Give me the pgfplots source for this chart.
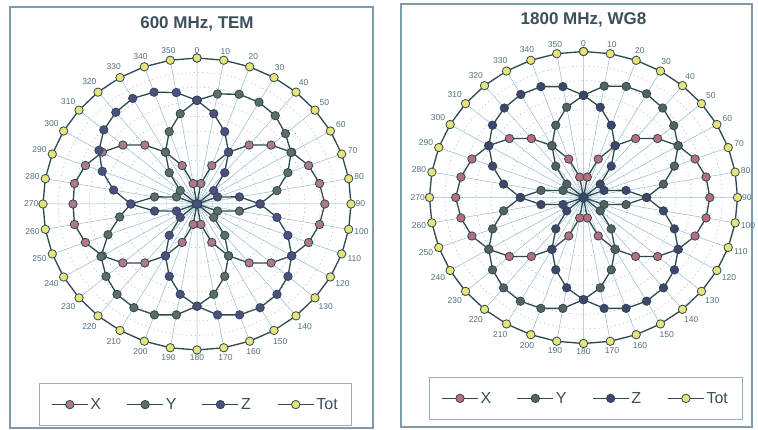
\documentclass[border=0pt]{standalone}
\usepackage{fontspec}
\setmainfont{Liberation Sans}
\usepackage{pgfplots}
\pgfplotsset{compat=1.18}
\usepgfplotslibrary{polar}
\usepackage{pgfplotstable}

\definecolor{ln}{HTML}{2E4A50}
\definecolor{cx}{HTML}{B27888}
\definecolor{cy}{HTML}{5E6E66}
\definecolor{cz}{HTML}{4E4E82}
\definecolor{ct}{HTML}{E8E47A}
\definecolor{cxR}{HTML}{B86C7E}
\definecolor{cyR}{HTML}{566260}
\definecolor{czR}{HTML}{40446F}
\definecolor{spoke}{HTML}{96B8CE}
\definecolor{lab}{HTML}{50707E}
\definecolor{frame}{HTML}{7C9CAC}
\definecolor{titlec}{HTML}{3C505A}

% angle (0 = top, clockwise), X, Y, Z, Tot
\pgfplotstableread{
a X Y Z T
0 0.000 0.710 0.710 1
10 0.142 0.765 0.628 1
20 0.280 0.800 0.527 1
30 0.410 0.805 0.410 1
40 0.527 0.790 0.280 1
50 0.628 0.750 0.142 1
60 0.710 0.705 0.000 1
70 0.771 0.628 0.142 1
80 0.808 0.527 0.280 1
90 0.830 0.410 0.410 1
100 0.808 0.280 0.527 1
110 0.771 0.142 0.628 1
120 0.710 0.000 0.710 1
130 0.628 0.142 0.771 1
140 0.527 0.280 0.808 1
150 0.410 0.410 0.820 1
160 0.280 0.527 0.808 1
170 0.142 0.628 0.771 1
180 0.000 0.700 0.700 1
190 0.142 0.771 0.628 1
200 0.280 0.808 0.527 1
210 0.410 0.820 0.410 1
220 0.527 0.808 0.280 1
230 0.628 0.771 0.142 1
240 0.710 0.720 0.000 1
250 0.771 0.615 0.142 1
260 0.808 0.510 0.280 1
270 0.805 0.430 0.430 1
280 0.808 0.280 0.550 1
290 0.771 0.142 0.655 1
300 0.710 0.000 0.735 1
310 0.628 0.142 0.790 1
320 0.527 0.280 0.820 1
330 0.410 0.410 0.835 1
340 0.280 0.527 0.815 1
350 0.142 0.628 0.775 1
360 0.000 0.710 0.710 1
}\leftdata

\pgfplotstableread{
a X Y Z T
0 0.000 0.700 0.700 1
10 0.142 0.775 0.628 1
20 0.280 0.810 0.527 1
30 0.410 0.820 0.410 1
40 0.527 0.800 0.280 1
50 0.628 0.765 0.142 1
60 0.710 0.710 0.000 1
70 0.771 0.628 0.142 1
80 0.808 0.527 0.280 1
90 0.820 0.410 0.410 1
100 0.808 0.280 0.527 1
110 0.771 0.142 0.628 1
120 0.710 0.000 0.710 1
130 0.628 0.142 0.771 1
140 0.527 0.280 0.808 1
150 0.410 0.410 0.820 1
160 0.280 0.527 0.808 1
170 0.142 0.628 0.771 1
180 0.000 0.700 0.700 1
190 0.142 0.771 0.628 1
200 0.280 0.808 0.527 1
210 0.410 0.820 0.410 1
220 0.527 0.808 0.280 1
230 0.628 0.771 0.142 1
240 0.710 0.710 0.000 1
250 0.771 0.628 0.142 1
260 0.808 0.527 0.280 1
270 0.830 0.410 0.410 1
280 0.808 0.280 0.527 1
290 0.771 0.142 0.628 1
300 0.710 0.000 0.710 1
310 0.628 0.142 0.771 1
320 0.527 0.280 0.800 1
330 0.410 0.410 0.815 1
340 0.280 0.527 0.808 1
350 0.142 0.628 0.771 1
360 0.000 0.700 0.700 1
}\rightdata

\pgfplotsset{
  mypolar/.style={
    scale only axis, width=308pt, height=292pt,
    xmin=0, xmax=360, ymin=0, ymax=1,
    clip=false,
    xtick={0,10,...,350},
    xticklabel={\pgfmathtruncatemacro\lab{mod(round(450-\tick),360)}\lab},
    xticklabel style={font=\fontsize{8.5}{9}\selectfont, text=lab, inner sep=4.5pt},
    ytick={0.1,0.2,...,0.95}, yticklabels={},
    xmajorgrids, ymajorgrids,
    x grid style={spoke, line width=0.5pt},
    y grid style={spoke, line width=0.5pt, dash pattern=on 1.2pt off 3pt},
    major tick length=0pt,
    axis line style={draw=none},
    /pgf/number format/assume math mode=true,
    legend columns=4,
    legend style={anchor=center, draw=frame!80, line width=0.8pt,
      inner xsep=12pt, inner ysep=13pt,
      font=\fontsize{16}{18}\selectfont, text=titlec,
      /tikz/every even column/.append style={column sep=0pt}},
    legend image code/.code={\draw[mark repeat=2,mark phase=2,##1]
      plot coordinates {(0pt,0pt) (18pt,0pt) (36pt,0pt)};},
    title style={anchor=center, font=\bfseries\fontsize{17}{20}\selectfont, text=titlec},
    every axis plot/.append style={ln, line width=1.3pt, mark=*, mark size=4.2pt},
  }
}

\begin{document}
\begin{tikzpicture}
\useasboundingbox (0,0) rectangle (758pt,430pt);
\draw[frame, line width=1.3pt] (10pt,2pt) rectangle (373pt,423pt);
\draw[frame, line width=1.3pt] (401pt,3pt) rectangle (752pt,426pt);

\begin{polaraxis}[mypolar, at={(197pt,226pt)}, anchor=origin,
  title={600 MHz, TEM}, title style={at={(0.5,1.067)}},
  legend style={at={(0.495,-0.187)}}]
\addplot[mark options={fill=cx, draw=ln, line width=0.8pt}] table[x expr=90-\thisrow{a}, y=X] {\leftdata};
\addlegendentry{\makebox[34pt][l]{X}}
\addplot[mark options={fill=cy, draw=ln, line width=0.8pt}] table[x expr=90-\thisrow{a}, y=Y] {\leftdata};
\addlegendentry{\makebox[34pt][l]{Y}}
\addplot[mark options={fill=cz, draw=ln, line width=0.8pt}] table[x expr=90-\thisrow{a}, y=Z] {\leftdata};
\addlegendentry{\makebox[34pt][l]{Z}}
\addplot[mark options={fill=ct, draw=ln, line width=0.8pt}] table[x expr=90-\thisrow{a}, y=T] {\leftdata};
\addlegendentry{Tot}
\end{polaraxis}

\begin{polaraxis}[mypolar, at={(583.5pt,232.5pt)}, anchor=origin,
  title={1800 MHz, WG8}, title style={at={(0.5,1.06)}},
  legend style={at={(0.507,-0.188)}}]
\addplot[mark options={fill=cxR, draw=ln, line width=0.8pt}] table[x expr=90-\thisrow{a}, y=X] {\rightdata};
\addlegendentry{\makebox[34pt][l]{X}}
\addplot[mark options={fill=cyR, draw=ln, line width=0.8pt}] table[x expr=90-\thisrow{a}, y=Y] {\rightdata};
\addlegendentry{\makebox[34pt][l]{Y}}
\addplot[mark options={fill=czR, draw=ln, line width=0.8pt}] table[x expr=90-\thisrow{a}, y=Z] {\rightdata};
\addlegendentry{\makebox[34pt][l]{Z}}
\addplot[mark options={fill=ct, draw=ln, line width=0.8pt}] table[x expr=90-\thisrow{a}, y=T] {\rightdata};
\addlegendentry{Tot}
\end{polaraxis}
\end{tikzpicture}
\end{document}
